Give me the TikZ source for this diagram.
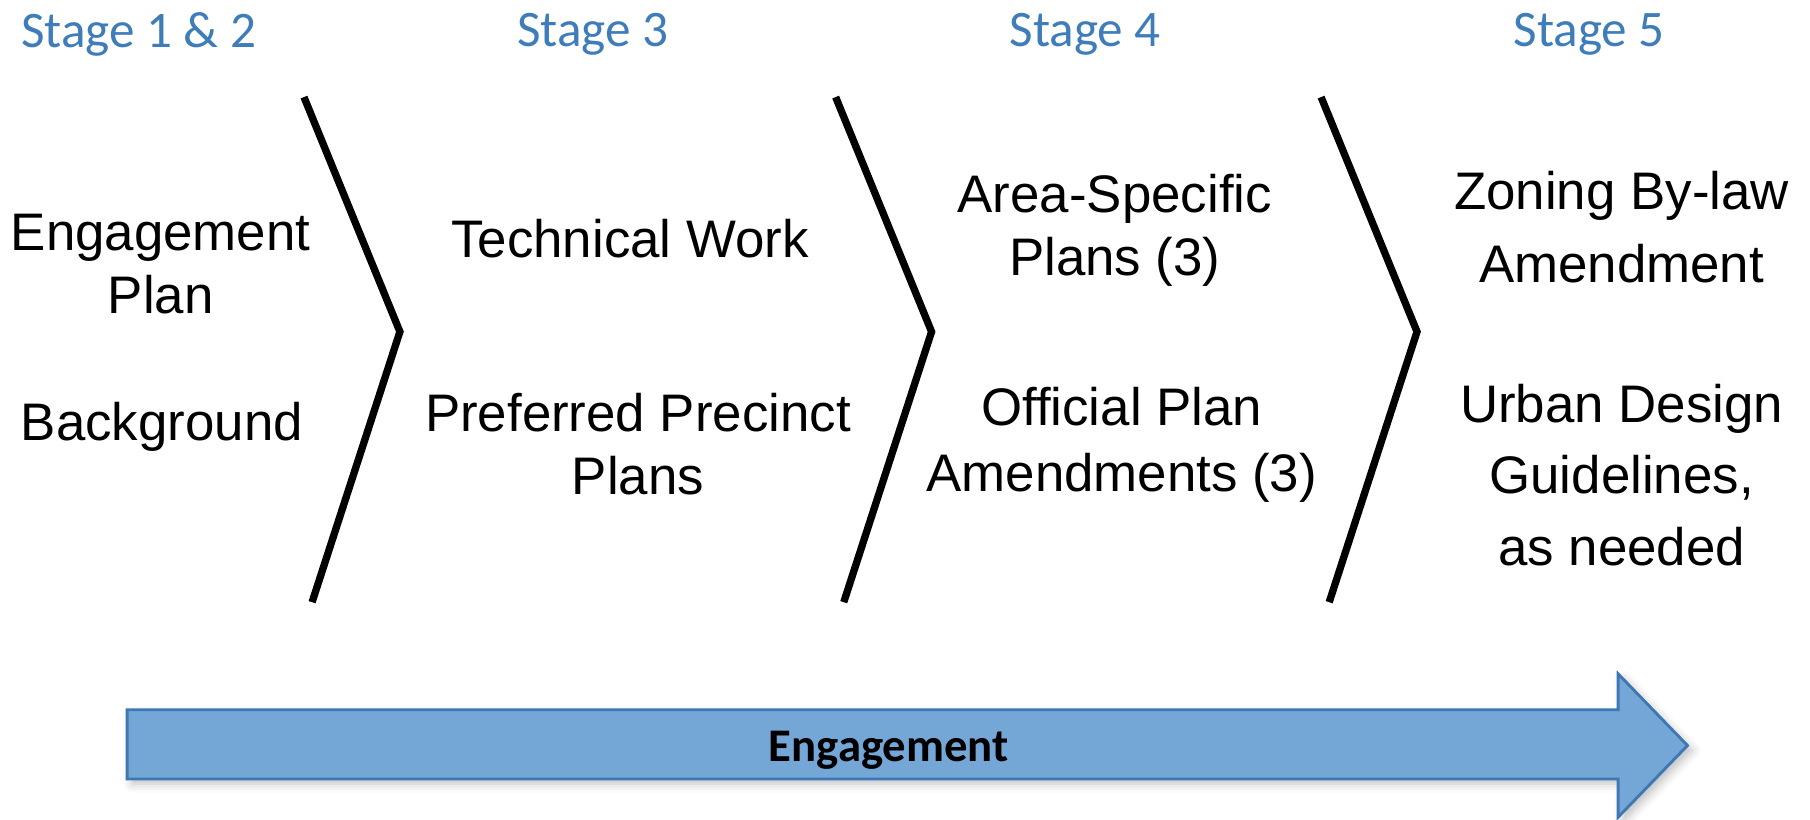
\documentclass[tikz,border=0pt]{standalone}
\usepackage{fontspec}
\setmainfont{Liberation Sans}
\newfontfamily\calibri{Carlito}
\usetikzlibrary{shadows.blur}
\definecolor{stageblue}{RGB}{62,124,186}
\definecolor{arrowfill}{RGB}{116,166,214}
\definecolor{arrowline}{RGB}{61,120,181}
\begin{document}
\begin{tikzpicture}[x=0.01cm, y=-0.01cm,
	stagelabel/.style={anchor=base, inner sep=0pt, text=stageblue, font=\calibri\fontsize{12.6}{15}\selectfont},
	item/.style={anchor=base, inner sep=0pt, align=center, font=\fontsize{13}{15.5}\selectfont},
	chev/.style={line width=1.8pt, line join=miter},
	engarrow/.style={fill=arrowfill, draw=arrowline, line width=0.7pt, blur shadow={shadow xshift=1.2pt, shadow yshift=-1.2pt, shadow opacity=25, shadow blur steps=4}}]
	\useasboundingbox (0,0) rectangle (1566,709);

	%stage headings
	\node (st12) at (120,41) [stagelabel]{Stage 1 \& 2};
	\node (st3) at (513,40) [stagelabel]{Stage 3};
	\node (st4) at (939,40) [stagelabel]{Stage 4};
	\node (st5) at (1375,40) [stagelabel]{Stage 5};

	%chevron separators
	\foreach \x in {263, 723, 1143}{
		\draw[chev] (\x,84) -- (\x+83,287) -- (\x+7,521);
	}

	%stage 1 & 2 (y = baseline of last line)
	\node (engplan) at (139,271) [item]{Engagement\\Plan};
	\node (backgr) at (140,381) [item]{Background};

	%stage 3
	\node (techwork) at (545,223) [item]{Technical Work};
	\node (precinct) at (552,428) [item]{Preferred Precinct\\Plans};

	%stage 4
	\node (areaplans) at (964.5,238) [item]{Area-Specific\\Plans (3)};
	\node (opa) at (970.5,425.5) [item, font=\fontsize{13}{16.3}\selectfont]{Official Plan\\Amendments (3)};

	%stage 5
	\node (zoning) at (1403,244) [item, font=\fontsize{13}{17.8}\selectfont]{Zoning By-law\\Amendment};
	\node (urban) at (1403,489) [item, font=\fontsize{13}{17.6}\selectfont]{Urban Design\\Guidelines,\\as needed};

	%engagement arrow
	\path[engarrow] (110,614) -- (1400,614) -- (1400,583) -- (1460,645) -- (1400,707) -- (1400,674) -- (110,674) -- cycle;
	\node (engage) at (769,659) [anchor=base, inner sep=0pt, font=\calibri\bfseries\fontsize{11.5}{14}\selectfont]{Engagement};
\end{tikzpicture}
\end{document}
